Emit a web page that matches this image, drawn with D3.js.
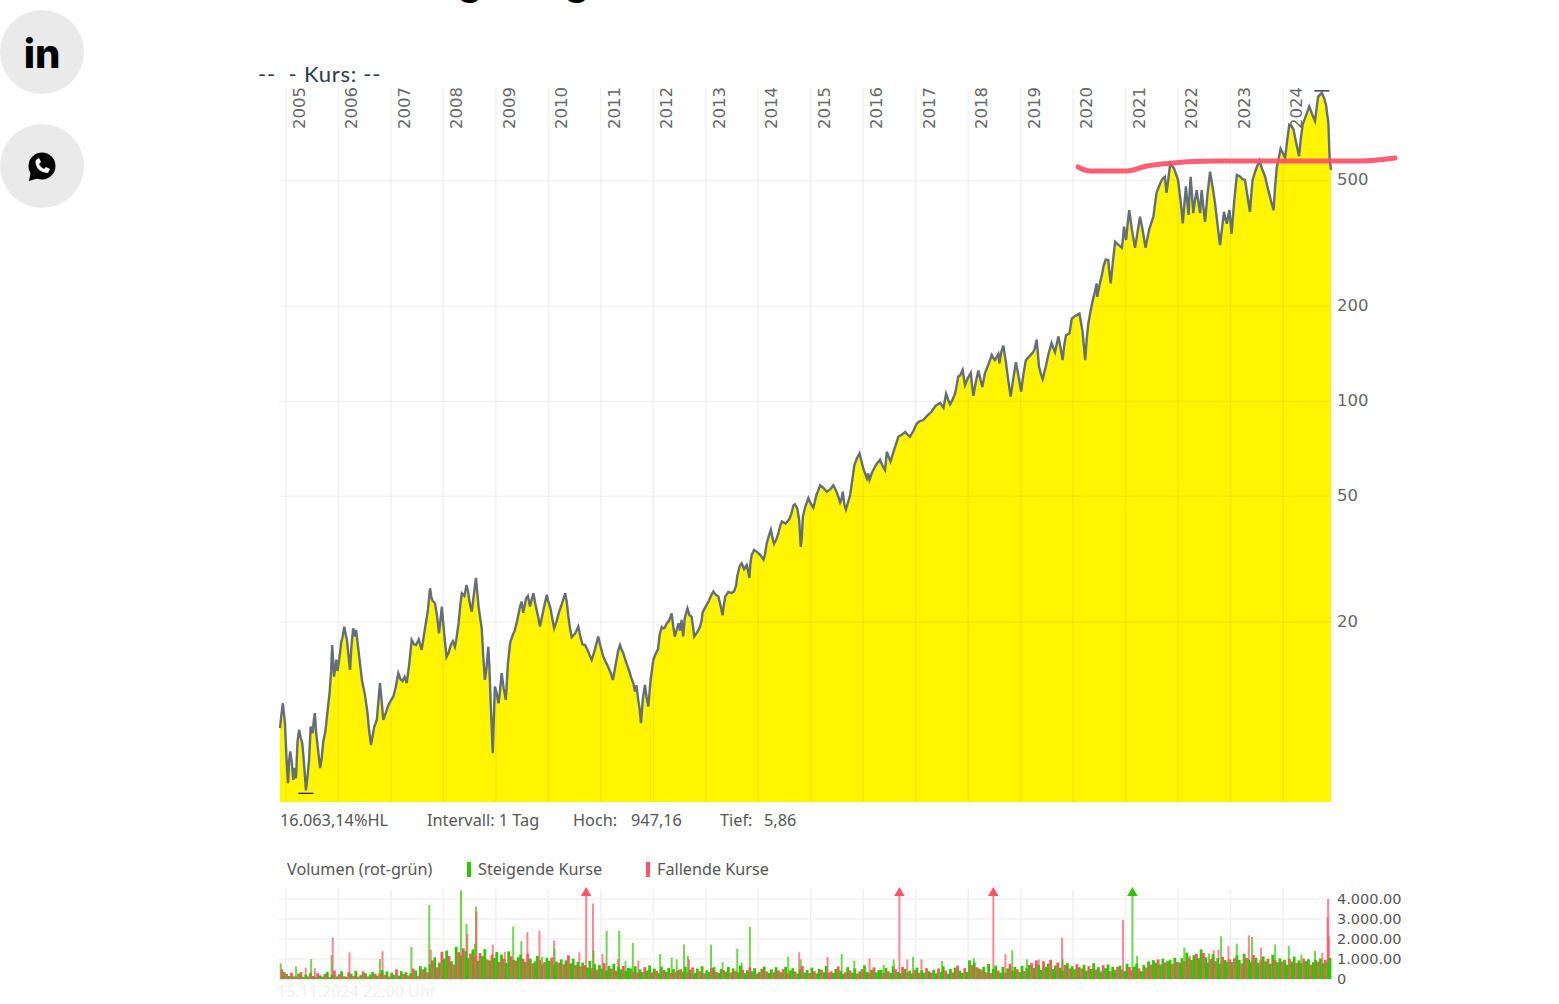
<!DOCTYPE html>
<html>
<head>
<meta charset="utf-8">
<title>Kurs</title>
<script src="https://cdn.jsdelivr.net/npm/d3@7"></script>
<style>
  html, body { margin: 0; background: #fff; overflow: hidden; }
  svg { display: block; }
  .lbl { font-family: "Noto Sans", sans-serif; fill: #555; }
  .num { font-family: "DejaVu Sans", sans-serif; fill: #666; }
  .axis .domain, .axis line { display: none; }
</style>
</head>
<body>
<div class="chart"></div>
<script>
const yearTicks = [2005, 2006, 2007, 2008, 2009, 2010, 2011, 2012, 2013, 2014, 2015, 2016, 2017, 2018, 2019, 2020, 2021, 2022, 2023, 2024];
const priceTicks = [500, 200, 100, 50, 20];
const volumeTicks = [0, 1000, 2000, 3000, 4000];
const volumeLabels = ["0", "1.000.00", "2.000.00", "3.000.00", "4.000.00"];

// decimal year, closing price
const priceYears = [
  2004.886, 2004.91, 2004.94, 2004.98, 2005.01, 2005.04, 2005.08, 2005.11, 2005.14, 2005.19, 2005.25, 2005.28, 2005.31, 2005.35, 2005.38, 2005.44, 2005.47, 2005.51, 2005.55, 2005.6, 2005.65, 2005.71, 2005.78, 2005.83, 2005.88, 2005.915, 2005.96, 2006.0, 2006.05, 2006.11, 2006.16, 2006.22, 2006.28, 2006.335, 2006.37, 2006.41, 2006.505, 2006.55, 2006.62, 2006.68, 2006.73, 2006.79, 2006.855, 2006.95, 2007.045, 2007.14, 2007.22, 2007.3, 2007.395, 2007.48, 2007.585, 2007.66, 2007.745, 2007.79, 2007.84, 2007.915, 2007.97, 2008.06, 2008.14, 2008.22, 2008.29, 2008.35, 2008.44, 2008.49, 2008.54, 2008.62, 2008.67, 2008.73, 2008.79, 2008.855, 2008.9, 2008.94, 2008.98, 2009.05, 2009.11, 2009.19, 2009.27, 2009.36, 2009.46, 2009.52, 2009.575, 2009.65, 2009.715, 2009.78, 2009.84, 2009.97, 2010.04, 2010.11, 2010.2, 2010.32, 2010.38, 2010.445, 2010.57, 2010.65, 2010.74, 2010.825, 2010.95, 2011.05, 2011.14, 2011.23, 2011.365, 2011.43, 2011.49, 2011.58, 2011.65, 2011.71, 2011.765, 2011.84, 2011.905, 2012.0, 2012.09, 2012.16, 2012.19, 2012.255, 2012.35, 2012.41, 2012.48, 2012.54, 2012.57, 2012.65, 2012.73, 2012.78, 2012.89, 2012.94, 2013.05, 2013.145, 2013.24, 2013.32, 2013.37, 2013.49, 2013.58, 2013.62, 2013.685, 2013.78, 2013.83, 2013.875, 2013.97, 2014.1, 2014.16, 2014.24, 2014.3, 2014.38, 2014.45, 2014.59, 2014.67, 2014.745, 2014.81, 2014.85, 2014.955, 2015.05, 2015.18, 2015.305, 2015.43, 2015.56, 2015.61, 2015.67, 2015.75, 2015.83, 2015.93, 2016.07, 2016.12, 2016.32, 2016.415, 2016.45, 2016.52, 2016.67, 2016.8, 2016.89, 2017.02, 2017.145, 2017.3, 2017.464, 2017.53, 2017.58, 2017.655, 2017.75, 2017.81, 2017.895, 2017.94, 2018.05, 2018.1, 2018.195, 2018.27, 2018.32, 2018.45, 2018.51, 2018.575, 2018.595, 2018.67, 2018.72, 2018.81, 2018.91, 2019.01, 2019.1, 2019.24, 2019.306, 2019.35, 2019.42, 2019.485, 2019.59, 2019.655, 2019.72, 2019.8, 2019.865, 2019.93, 2019.975, 2020.12, 2020.18, 2020.23, 2020.29, 2020.375, 2020.45, 2020.46, 2020.545, 2020.62, 2020.67, 2020.717, 2020.8, 2020.93, 2020.97, 2021.01, 2021.07, 2021.18, 2021.275, 2021.38, 2021.53, 2021.59, 2021.66, 2021.75, 2021.78, 2021.85, 2021.92, 2022.0, 2022.09, 2022.15, 2022.2, 2022.24, 2022.29, 2022.355, 2022.42, 2022.45, 2022.515, 2022.61, 2022.705, 2022.8, 2022.875, 2022.93, 2022.98, 2023.02, 2023.12, 2023.276, 2023.37, 2023.42, 2023.55, 2023.66, 2023.74, 2023.82, 2023.88, 2023.955, 2024.04, 2024.12, 2024.2, 2024.306, 2024.375, 2024.5, 2024.61, 2024.67, 2024.74, 2024.82, 2024.865, 2024.89, 2024.915
];
const priceValues = [
  9.22, 10.1, 11.06, 9.56, 7.4, 6.18, 7.78, 7.2, 6.33, 6.4, 9.11, 8.6, 8.26, 6.9, 5.86, 7.32, 9.33, 8.9, 10.29, 8.2, 6.89, 8.37, 10.04, 11.9, 16.91, 13.43, 15.2, 14.63, 17.2, 19.34, 17.6, 14.1, 19.11, 18.88, 16.9, 14.8, 11.76, 10.4, 8.16, 9.3, 9.79, 12.8, 9.79, 10.9, 11.62, 13.77, 13.0, 12.8, 17.55, 16.9, 16.32, 19.6, 25.57, 23.4, 22.93, 18.42, 22.38, 15.5, 16.9, 16.7, 19.9, 24.66, 26.19, 23.6, 21.57, 27.6, 22.4, 19.1, 13.11, 16.7, 11.2, 7.68, 12.49, 11.06, 13.77, 11.34, 17.13, 18.8, 22.38, 21.4, 23.8, 22.4, 24.66, 21.7, 19.34, 24.4, 22.1, 19.1, 21.4, 24.66, 20.9, 17.9, 19.34, 17.0, 16.4, 15.17, 18.0, 15.5, 14.4, 13.11, 16.91, 15.9, 14.8, 13.3, 12.05, 11.4, 9.56, 12.65, 10.8, 15.17, 16.4, 19.3, 19.1, 19.8, 21.3, 17.97, 19.8, 20.3, 18.0, 22.1, 20.8, 18.0, 19.3, 21.5, 23.2, 24.98, 24.1, 21.0, 24.1, 24.7, 26.2, 28.9, 30.7, 30.3, 27.6, 32.6, 33.4, 31.5, 35.4, 39.2, 35.4, 38.0, 41.6, 42.3, 46.8, 45.7, 34.6, 43.1, 49.4, 46.0, 54.2, 51.7, 54.2, 47.8, 51.7, 45.4, 50.5, 62.7, 68.4, 57.0, 56.4, 65.3, 60.6, 69.2, 64.5, 77.2, 80.0, 77.2, 85.0, 87.2, 92.6, 98.8, 95.4, 105.7, 97.7, 105.7, 119.7, 125.7, 112.6, 122.9, 104.0, 125.0, 111.0, 122.9, 140.1, 135.0, 141.0, 131.7, 150.0, 133.0, 103.4, 133.0, 107.2, 135.0, 143.0, 156.7, 128.7, 117.5, 130.0, 153.0, 143.0, 160.5, 135.0, 162.0, 164.0, 182.6, 189.4, 166.0, 135.0, 176.0, 209.0, 236.0, 214.0, 249.0, 281.0, 280.0, 236.0, 320.0, 306.0, 357.0, 324.0, 403.0, 306.0, 384.0, 306.0, 384.0, 457.0, 490.0, 514.0, 457.0, 567.0, 547.0, 502.0, 366.0, 479.0, 389.0, 514.0, 394.0, 466.0, 394.0, 466.0, 370.0, 533.0, 424.0, 312.0, 398.0, 365.0, 403.0, 339.0, 521.0, 502.0, 398.0, 502.0, 578.0, 514.0, 452.0, 403.0, 547.0, 630.0, 590.0, 751.0, 725.0, 597.0, 751.0, 858.0, 772.0, 922.0, 947.16, 869.0, 762.0, 578.0, 540.0
];

// smaller wiggles of the same line
const detailYears = [
  2005.02, 2005.06, 2005.165, 2005.22, 2005.33, 2005.41, 2005.53, 2005.575, 2005.68, 2005.75, 2005.86, 2005.895, 2005.98, 2006.03, 2006.08, 2006.14, 2006.25, 2006.31, 2006.45, 2006.58, 2006.65, 2006.76, 2006.82, 2006.9, 2007.0, 2007.09, 2007.18, 2007.26, 2007.35, 2007.44, 2007.53, 2007.62, 2007.7, 2007.77, 2007.88, 2007.94, 2008.01, 2008.1, 2008.18, 2008.25, 2008.32, 2008.4, 2008.47, 2008.51, 2008.58, 2008.7, 2008.76, 2008.82, 2008.875, 2009.01, 2009.08, 2009.15, 2009.23, 2009.31, 2009.41, 2009.49, 2009.55, 2009.61, 2009.68, 2009.75, 2009.81, 2009.91, 2010.0, 2010.08, 2010.16, 2010.26, 2010.35, 2010.41, 2010.51, 2010.61, 2010.7, 2010.78, 2010.88, 2011.0, 2011.09, 2011.18, 2011.28, 2011.33, 2011.4, 2011.46, 2011.54, 2011.62, 2011.68, 2011.74, 2011.8, 2011.87, 2011.95, 2012.04,
  2012.12, 2012.22, 2012.3, 2012.38, 2012.45, 2012.51, 2012.6, 2012.69, 2012.76, 2012.84, 2012.92, 2013.0, 2013.1, 2013.19, 2013.28, 2013.34, 2013.43, 2013.54, 2013.6, 2013.65, 2013.73, 2013.81, 2013.85, 2013.92, 2014.04, 2014.13, 2014.2, 2014.27, 2014.34, 2014.42, 2014.52, 2014.63, 2014.7, 2014.78, 2014.83, 2014.9, 2015.0, 2015.11, 2015.15, 2015.24, 2015.37, 2015.49, 2015.53, 2015.59, 2015.64, 2015.71, 2015.79, 2015.88, 2016.0, 2016.095, 2016.17, 2016.25, 2016.37, 2016.48, 2016.6, 2016.74, 2016.85, 2016.95, 2017.08, 2017.22, 2017.38,
  2017.62, 2017.7, 2017.78, 2017.85, 2017.99, 2018.075, 2018.15, 2018.23, 2018.38, 2018.48, 2018.63, 2018.76, 2018.86, 2018.96, 2019.05, 2019.17, 2019.27, 2019.385, 2019.53, 2019.62, 2019.76, 2019.83, 2020.03, 2020.15, 2020.205, 2020.26, 2020.33, 2020.415, 2020.5, 2020.58, 2020.69, 2020.76, 2020.87, 2020.95, 2021.04, 2021.12, 2021.23, 2021.33, 2021.45, 2021.56,
  2021.7, 2021.82, 2021.88, 2021.96, 2022.05, 2022.12, 2022.175, 2022.22, 2022.265, 2022.32, 2022.385, 2022.435, 2022.48, 2022.56, 2022.66, 2022.75, 2022.84, 2022.9, 2022.955, 2023.0, 2023.07, 2023.18, 2023.23, 2023.32, 2023.395, 2023.48, 2023.6, 2023.7, 2023.78, 2023.85, 2023.92, 2024.0, 2024.08, 2024.16, 2024.25, 2024.34, 2024.44, 2024.55, 2024.64, 2024.705, 2024.78, 2024.84
];
const detailValues = [
  6.9, 7.3, 6.9, 8.4, 7.6, 6.5, 9.8, 8.9, 7.4, 9.0, 14.0, 15.4, 14.0, 16.0, 18.0, 18.2, 17.0, 18.0, 13.0, 9.2, 8.7, 11.2, 11.4, 10.3, 11.3, 12.4, 13.2, 13.4, 14.8, 17.0, 17.6, 17.8, 21.5, 24.0, 20.8, 20.0, 18.7, 16.0, 17.4, 17.8, 22.5, 24.2, 25.0, 22.6, 24.4, 20.6, 15.5, 14.2, 14.6, 12.0, 12.2, 12.3, 14.8, 18.0, 20.4, 23.2, 22.6, 24.2, 23.5, 22.9, 20.6, 22.0, 23.2, 20.3, 20.2, 22.9, 23.2, 19.2, 18.4, 18.0, 16.9, 15.8, 16.2, 16.6, 15.0, 13.9, 14.6, 16.2, 16.3, 15.3, 14.0, 12.8, 12.6, 10.6, 11.4, 11.6, 13.2, 15.8,
  18.2, 19.2, 20.2, 19.4, 19.0, 18.8, 20.6, 21.0, 19.2, 18.6, 20.2, 22.4, 24.2, 24.4, 22.6, 22.4, 24.9, 25.0, 28.0, 30.2, 29.4, 28.8, 30.6, 33.8, 32.6, 32.9, 37.4, 37.0, 36.4, 40.4, 41.0, 44.0, 47.2, 42.0, 37.0, 46.6, 47.4, 50.6, 52.6, 53.2, 52.6, 51.8, 49.6, 49.2, 47.2, 47.8, 56.0, 66.0, 61.4, 59.0, 59.6, 63.2, 62.4, 67.0, 71.0, 78.4, 78.2, 80.2, 86.6, 90.0, 96.8,
  101, 101, 112, 121, 118, 112, 116, 118, 130, 137, 143, 118, 118, 120, 121, 139, 147, 122, 141, 148, 148, 150, 186, 178, 150, 158, 192, 222, 232, 268, 258, 278, 312, 328, 366, 350, 345, 345, 350, 420,
  505, 512, 558, 525, 430, 420, 430, 455, 450, 430, 430, 430, 415, 450, 475, 365, 355, 380, 385, 370, 430, 515, 505, 450, 450, 540, 545, 480, 425, 480, 590, 610, 670, 745, 660, 680, 805, 815, 845, 935, 915, 815
];

const lowPoint = [2005.38, 5.86];
const highPoint = [2024.74, 947.16];

// the felt-pen line somebody drew over the screenshot
const markerYears = [2020.094, 2020.323, 2021.028, 2021.41, 2021.905, 2022.667, 2024.459, 2025.469, 2026.136];
const markerValues = [552, 536, 536, 556, 568, 576, 576, 576, 589];

// dense daily volume, in thousands, one row per year; minus = falling day
const volumeBase = [
  -480, 340, -260, 150, -310, 130, -120, 270, -340, 110, 220, -130, 310, -150, 100, -290, 180, 120, -250, 360, -110,
  210, -420, 130, -240, 380, -140, 120, -330, 260, -160, 410, -120, 190, -380, 290, -130, 220, 350, -260, 170,
  -290, 440, -210, 370, -130, 310, 210, -480, 170, 390, -250, 340, -180, 290, -520, 430, -170, 640, -480, 590, -340,
  720, -930, 1080, -590, 820, -1360, 1020, 1420, -1150, 890, -720, 1620, -1340, 1180, -1540, 1390, 1040, -1270, 1480, -1120, 920,
  -1290, 1140, 1490, -980, 930, -1210, 1060, 1350, -860, 1220, -1010, 810, 1380, -1140, 960, -920, 1090, 1220, -1010, 860, -1260,
  1020, -790, 880, 1160, -950, 730, -840, 1060, 910, -1070, 690, 870, -810, 980, -740, 930, -1180, 780, 1010, -700, 850,
  -630, 820, -690, 570, 910, -540, 740, -470, 690, 520, -790, 430, 650, -520, 760, -420, 600, 480, -650, 400, 560,
  530, -370, 640, -320, 480, 350, -590, 420, 680, -340, 520, -410, 290, 610, -450, 370, 560, -300, 490, -360, 450,
  -490, 370, 610, -330, 470, -580, 310, 520, -390, 640, -280, 440, 340, -550, 590, -350, 300, 500, -440, 370, 600,
  -320, 530, -410, 330, 670, -460, 290, 440, -580, 390, 540, -280, 350, -510, 620, -380, 310, 480, -330, 590, -430,
  340, -490, 610, -290, 430, 540, -370, 270, 490, -640, 320, 450, -300, 570, -390, 280, 510, -460, 340, 660, -320,
  -380, 310, 500, -630, 410, 260, -340, 590, -430, 320, 530, -280, 380, -490, 680, 350, -300, 470, -580, 330, 440,
  460, -290, 560, -390, 310, 640, -480, 350, 290, -600, 510, -330, 420, 270, -460, 570, -310, 440, 320, -540, 390,
  -320, 460, 290, -530, 340, 630, -420, 270, 500, -330, 570, -670, 420, 300, -540, 350, 930, -710, 820, -590, 520,
  -470, 610, -340, 760, -300, 500, 670, -420, 320, 610, -310, 530, -760, 430, 600, -490, 340, 660, -400, 540, 700,
  -790, 560, -930, 710, 450, -880, 600, 770, -960, 490, 680, -820, 570, 410, -700, 790, -530, 640, 480, -740, 590,
  -520, 700, 420, -640, 500, 790, -470, 590, 380, -690, 540, 730, -400, 610, 460, -610, 670, -470, 390, 760, -600,
  -440, 620, 770, -530, 390, 700, -580, 880, -720, 940, 810, -980, 730, 1020, -830, 890, 960, -770, 1060, -860, 820,
  1040, -890, 1320, -1070, 950, 1190, -1260, 1040, 1480, -1300, 1090, 830, -1010, 1240, -890, 1050, 760, -1110, 950, 870, -980,
  850, -1040, 1180, 950, -780, 1260, -1060, 980, 860, -1190, 1060, 810, -940, 1130, 880, -1000, 760, 1210, -950, 840, 1030,
  -880, 960, 720, -1000, 870, 1120, -810, 930, 780, -1020, 890, 990, -720, 840, 950, -870, 1030, 780, -960, 830, 1060
];

// single tall days: year, thousands, 1 rising / -1 falling
const spikeYears = [2004.9, 2005.19, 2005.375, 2005.48, 2005.55, 2005.87, 2005.89, 2006.21, 2006.79, 2006.84, 2007.39, 2007.73, 2007.76, 2008.335, 2008.44, 2008.455, 2008.62, 2008.63, 2008.6, 2008.94, 2009.17, 2009.33, 2009.485, 2009.6, 2009.83, 2009.88, 2010.11, 2010.115, 2010.38, 2010.59, 2010.85, 2010.86, 2011.03, 2011.11, 2011.35, 2011.33, 2011.61, 2011.47, 2011.715, 2012.13, 2012.585, 2012.66, 2012.68, 2012.35, 2012.445, 2013.1, 2013.6, 2013.685, 2013.84, 2013.32, 2014.57, 2014.78, 2014.81, 2015.32, 2015.59, 2015.83, 2016.12, 2016.39, 2016.58, 2016.84, 2016.95, 2017.11, 2017.5, 2018.11, 2018.71, 2018.84, 2019.12, 2019.345, 2019.79, 2019.8, 2020.95, 2021.22, 2021.54, 2022.12, 2022.22, 2022.36, 2022.59, 2022.68, 2022.77, 2022.82, 2022.96, 2023.12, 2023.35, 2023.41, 2023.58, 2023.72, 2023.85, 2024.11, 2024.35, 2024.61, 2024.75, 2024.85, 2024.86, 2024.875];
const spikeValues = [790, 620, 570, 1000, 540, 1200, 2065, 1330, 1000, 1390, 1600, 3690, 1470, 4430, 2750, 2260, 3620, 3380, 1770, 1720, 1360, 2620, 1890, 2340, 2410, 1110, 1930, 1520, 1110, 1330, 3770, 1440, 1250, 2410, 2410, 1000, 1800, 920, 920, 1250, 1720, 1150, 980, 1065, 980, 1720, 1520, 820, 2610, 840, 1110, 1330, 980, 1110, 1250, 920, 1030, 700, 980, 980, 1110, 980, 900, 1030, 1240, 1440, 980, 980, 2060, 980, 2950, 1160, 870, 1570, 1160, 1230, 1280, 1440, 1475, 2130, 1640, 1770, 2180, 2100, 1570, 1030, 1720, 1650, 1230, 1410, 1310, 3080, 4000, 2130];
const spikeDirs = [1, 1, -1, 1, -1, 1, -1, -1, 1, -1, 1, 1, -1, 1, 1, -1, 1, -1, 1, -1, -1, 1, 1, -1, -1, 1, -1, 1, -1, -1, -1, 1, -1, 1, 1, -1, 1, 1, -1, 1, 1, 1, -1, 1, 1, 1, 1, 1, 1, 1, 1, -1, 1, -1, 1, 1, -1, 1, 1, -1, 1, -1, 1, 1, -1, 1, 1, -1, -1, 1, -1, 1, -1, 1, 1, 1, 1, -1, -1, 1, -1, 1, -1, 1, -1, -1, 1, 1, 1, 1, -1, -1, -1, -1];

// days above the top of the volume panel get an arrow
const overflowYears = [2010.72, 2016.69, 2018.48, 2021.13];
const overflowDirs = [-1, -1, -1, 1];

const green = "#33c400";
const red = "#ff5468";
const initWidth = 1559;
const initHeight = 1004;

const svg = d3
  .select(".chart")
  .append("svg")
  .attr("width", initWidth)
  .attr("height", initHeight);

const xScale = d3.scaleLinear().domain([2005, 2024]).range([286, 1283]);
const yScale = d3.scaleLog().domain([20, 500]).range([622, 180.5]);
const volScale = d3.scaleLinear().domain([0, 4000]).range([979, 899]);

const priceData = priceYears
  .map((d, i) => [d, priceValues[i]])
  .concat(detailYears.map((d, i) => [d, detailValues[i]]))
  .sort((a, b) => d3.ascending(a[0], b[0]));
const chartBottom = 802;
const chartRight = 1331;

// page bits around the chart
svg.selectAll(".shareBtn")
  .data([52, 166])
  .enter()
  .append("circle")
  .attr("cx", 42)
  .attr("cy", d => d)
  .attr("r", 42)
  .attr("fill", "#eaeaea");

svg.append("text")
  .attr("x", 42)
  .attr("y", 68)
  .attr("text-anchor", "middle")
  .style("font-family", "Inter, sans-serif")
  .style("font-weight", 800)
  .style("font-size", "40px")
  .attr("fill", "#000")
  .text("in");

const whatsapp = svg.append("g").attr("transform", "translate(42,166)");
whatsapp.append("circle").attr("r", 13.5).attr("fill", "#000");
whatsapp.append("path").attr("d", "M-13,15 L-11,4 L-3,12 Z").attr("fill", "#000");
whatsapp.append("path")
  .attr("d", "M-6,-6 C-8,-2 -4,7 6,7 L8,3 L4,1 L2,3 C0,2 -2,0 -3,-2 L-1,-4 L-3,-8 Z")
  .attr("fill", "#fff");

svg.selectAll(".titleCut")
  .data([470, 577])
  .enter()
  .append("text")
  .attr("x", d => d)
  .attr("y", -4)
  .attr("text-anchor", "middle")
  .style("font-family", "Lato, sans-serif")
  .style("font-weight", 500)
  .style("font-size", "42px")
  .attr("fill", "#000")
  .text("g");

svg.append("text")
  .attr("x", 258)
  .attr("y", 82)
  .style("font-family", "Lato, sans-serif")
  .style("font-size", "22px")
  .style("letter-spacing", "0.75px")
  .attr("fill", "#2b3c48")
  .style("white-space", "pre")
  .text("--  - Kurs: --");

// price panel
const area = d3.area()
  .x(d => xScale(d[0]))
  .y0(chartBottom)
  .y1(d => yScale(d[1]));

const line = d3.line()
  .x(d => xScale(d[0]))
  .y(d => yScale(d[1]));

svg.append("path")
  .datum(priceData)
  .attr("d", area)
  .attr("fill", "#fff500");

svg.selectAll(".gridX")
  .data(yearTicks)
  .enter()
  .append("line")
  .attr("x1", d => xScale(d))
  .attr("x2", d => xScale(d))
  .attr("y1", 87)
  .attr("y2", chartBottom)
  .attr("stroke", "#000")
  .attr("stroke-opacity", 0.05)
  .attr("stroke-width", 1.5);

svg.selectAll(".gridY")
  .data(priceTicks)
  .enter()
  .append("line")
  .attr("x1", 279)
  .attr("x2", chartRight)
  .attr("y1", d => yScale(d))
  .attr("y2", d => yScale(d))
  .attr("stroke", "#000")
  .attr("stroke-opacity", 0.05)
  .attr("stroke-width", 1.5);

svg.append("path")
  .datum(priceData)
  .attr("d", line)
  .attr("fill", "none")
  .attr("stroke", "#626e78")
  .attr("stroke-width", 2.4);

svg.selectAll(".yearLabel")
  .data(yearTicks)
  .enter()
  .append("text")
  .attr("class", "num")
  .attr("transform", d => "translate(" + (xScale(d) + 19) + ",129) rotate(-90)")
  .style("font-size", "16.5px")
  .text(d => d);

svg.append("g")
  .attr("class", "axis num")
  .attr("transform", "translate(1331,0)")
  .call(d3.axisRight(yScale).tickValues(priceTicks).tickFormat(d => d).tickSize(0).tickPadding(6))
  .selectAll("text")
  .attr("dy", "0.25em")
  .style("font-family", "DejaVu Sans, sans-serif")
  .style("font-size", "16.5px")
  .attr("fill", "#666");

// high / low ticks
[lowPoint, highPoint].forEach((p, i) => {
  const py = yScale(p[1]) + (i === 0 ? 3 : -2);
  svg.append("line")
    .attr("x1", xScale(p[0]) - 7.5)
    .attr("x2", xScale(p[0]) + 7.5)
    .attr("y1", py)
    .attr("y2", py)
    .attr("stroke", "#222")
    .attr("stroke-width", 1.3);
});

// stats row
const statTexts = [[280, "16.063,14%HL"], [427, "Intervall: 1 Tag"], [573, "Hoch:"], [631, "947,16"], [720, "Tief:"], [764, "5,86"]];
svg.selectAll(".stat")
  .data(statTexts)
  .enter()
  .append("text")
  .attr("class", "lbl")
  .attr("x", d => d[0])
  .attr("y", 826)
  .style("font-size", "16.3px")
  .text(d => d[1]);

// volume legend
const legendTexts = [[287, "Volumen (rot-grün)"], [478, "Steigende Kurse"], [657, "Fallende Kurse"]];
svg.selectAll(".legend")
  .data(legendTexts)
  .enter()
  .append("text")
  .attr("class", "lbl")
  .attr("x", d => d[0])
  .attr("y", 875)
  .style("font-size", "16.2px")
  .text(d => d[1]);

svg.selectAll(".legendKey")
  .data([[467, green], [646, red]])
  .enter()
  .append("rect")
  .attr("x", d => d[0])
  .attr("y", 862)
  .attr("width", 4)
  .attr("height", 15)
  .attr("fill", d => d[1]);

// volume panel
svg.selectAll(".volGridX")
  .data(yearTicks)
  .enter()
  .append("line")
  .attr("x1", d => xScale(d))
  .attr("x2", d => xScale(d))
  .attr("y1", 889)
  .attr("y2", volScale(0))
  .attr("stroke", "#f0f0f0")
  .attr("stroke-width", 1.5);

svg.selectAll(".volGridY")
  .data(volumeTicks)
  .enter()
  .append("line")
  .attr("x1", 279)
  .attr("x2", chartRight)
  .attr("y1", d => volScale(d))
  .attr("y2", d => volScale(d))
  .attr("stroke", d => (d === 0 ? "#e4e4e4" : "#f0f0f0"))
  .attr("stroke-width", 1.5);

const volX = d3.scaleBand()
  .domain(d3.range(volumeBase.length))
  .range([280.5, chartRight]);

const spikes = spikeYears.map((d, i) => ({ year: d, value: spikeValues[i], dir: spikeDirs[i] }));

svg.selectAll(".spike")
  .data(spikes)
  .enter()
  .append("rect")
  .attr("x", d => xScale(d.year) - 1)
  .attr("y", d => volScale(d.value))
  .attr("width", 2)
  .attr("height", d => volScale(0) - volScale(d.value))
  .attr("fill", d => (d.dir > 0 ? green : red))
  .attr("fill-opacity", 0.7);

const overflows = overflowYears.map((d, i) => ({ year: d, dir: overflowDirs[i] }));

svg.selectAll(".overflowBar")
  .data(overflows)
  .enter()
  .append("rect")
  .attr("x", d => xScale(d.year) - 1)
  .attr("y", 893)
  .attr("width", 2)
  .attr("height", volScale(0) - 893)
  .attr("fill", d => (d.dir > 0 ? green : red))
  .attr("fill-opacity", 0.7);

svg.selectAll(".overflowArrow")
  .data(overflows)
  .enter()
  .append("path")
  .attr("d", d3.symbol().type(d3.symbolTriangle).size(48))
  .attr("transform", d => "translate(" + xScale(d.year) + ",893)")
  .attr("fill", d => (d.dir > 0 ? green : red));

svg.selectAll(".volBar")
  .data(volumeBase)
  .enter()
  .append("rect")
  .attr("x", (d, i) => volX(i))
  .attr("y", d => volScale(Math.abs(d)))
  .attr("width", volX.bandwidth() + 0.4)
  .attr("height", d => volScale(0) - volScale(Math.abs(d)))
  .attr("fill", d => (d > 0 ? green : red));

svg.append("g")
  .attr("class", "axis num")
  .attr("transform", "translate(1331,0)")
  .call(d3.axisRight(volScale).tickValues(volumeTicks).tickFormat((d, i) => volumeLabels[i]).tickSize(0).tickPadding(6))
  .selectAll("text")
  .style("font-family", "DejaVu Sans, sans-serif")
  .style("font-size", "14.5px")
  .attr("fill", "#555");

svg.append("text")
  .attr("x", 277)
  .attr("y", 997)
  .style("font-family", "Noto Sans, sans-serif")
  .style("font-size", "16px")
  .attr("fill", "#f0f0f0")
  .text("15.11.2024 22:00 Uhr");

// the hand-drawn resistance line sits on top of everything
svg.append("path")
  .datum(markerYears.map((d, i) => [d, markerValues[i]]))
  .attr("d", d3.line().x(d => xScale(d[0])).y(d => yScale(d[1])).curve(d3.curveMonotoneX))
  .attr("fill", "none")
  .attr("stroke", "#ff4f68")
  .attr("stroke-opacity", 0.92)
  .attr("stroke-width", 5)
  .attr("stroke-linecap", "round");
</script>
</body>
</html>
